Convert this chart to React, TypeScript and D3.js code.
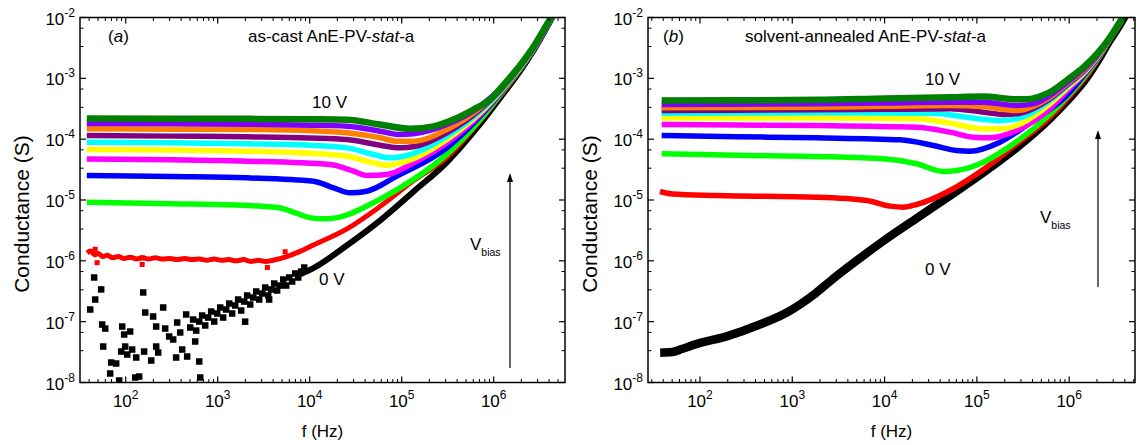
import React from 'react';
import * as d3 from 'd3';

// All data points are [log10 f (Hz), log10 G (S)].
type P = [number, number];

const VOLT_LABELS = ['0 V', '1 V', '2 V', '3 V', '4 V', '5 V', '6 V', '7 V', '8 V', '9 V', '10 V'];
const COLORS = ['#000000', '#FF0000', '#00FF00', '#0000FF', '#FF00FF', '#FFFF00', '#00FFFF', '#800080', '#FF8000', '#8000FF', '#008000'];

const X_MAJOR_EXP = [2, 3, 4, 5, 6];
const Y_MAJOR_EXP = [-8, -7, -6, -5, -4, -3, -2];

// ---------- (a) as-cast ----------
const castV0Scatter: P[] = [
  [1.614, -6.8], [1.657, -6.274], [1.668, -6.636], [1.733, -6.47], [1.744, -7.047], [1.777, -7.113],
  [1.755, -7.409], [1.842, -7.672], [1.896, -7.688], [1.831, -7.852], [1.929, -7.967], [1.962, -7.08],
  [1.983, -7.211], [2.048, -7.162], [1.951, -7.491], [1.994, -7.409], [2.016, -7.54], [2.07, -7.458],
  [2.103, -7.918], [2.146, -7.902], [2.114, -7.589], [2.19, -6.52], [2.2, -7.491], [2.212, -6.85],
  [2.277, -7.639], [2.298, -6.915], [2.331, -7.08], [2.331, -7.409], [2.353, -7.507], [2.407, -6.767],
  [2.429, -7.113], [2.472, -7.244], [2.516, -7.293], [2.548, -7.589], [2.559, -7.014], [2.592, -7.178],
  [2.614, -7.458], [2.657, -6.882], [2.668, -7.573], [2.755, -7.326], [2.799, -7.655], [2.81, -7.918],
  [3.298, -7.0], [3.559, -6.636],
  [2.701, -7.096], [2.733, -6.965], [2.766, -7.146], [2.799, -6.998], [2.831, -6.899], [2.864, -7.063],
  [2.896, -6.932], [2.929, -6.833], [2.962, -6.998], [2.994, -6.866], [3.027, -6.767], [3.059, -6.932],
  [3.092, -6.8], [3.125, -6.702], [3.157, -6.866], [3.19, -6.734], [3.222, -6.636], [3.255, -6.817],
  [3.288, -6.669], [3.32, -6.57], [3.353, -6.718], [3.386, -6.603], [3.418, -6.504], [3.451, -6.636],
  [3.483, -6.537], [3.516, -6.439], [3.549, -6.57], [3.581, -6.471], [3.614, -6.373], [3.646, -6.488],
  [3.679, -6.406], [3.712, -6.307], [3.744, -6.406], [3.777, -6.274], [3.809, -6.34], [3.842, -6.208],
  [3.875, -6.274], [3.907, -6.176], [3.94, -6.11],
];
const castV0: P[] = [
  [3.9, -6.22], [4.04, -6.12], [4.41, -5.74], [4.77, -5.33], [5.13, -4.86], [5.49, -4.38], [5.853, -3.75],
  [6.1, -3.26], [6.3, -2.85], [6.45, -2.5], [6.56, -2.21], [6.64, -1.99], [6.72, -1.76],
];
const castV1Scatter: P[] = [
  [1.668, -5.81], [1.689, -6.03], [2.179, -6.06], [2.18, -5.95], [3.54, -6.11], [3.733, -5.85],
];
const castV1: P[] = [
  [1.58, -5.87], [1.62, -5.84], [1.66, -5.9], [1.7, -5.88], [1.75, -5.93], [1.8, -5.91], [1.86, -5.95],
  [1.92, -5.93], [1.98, -5.96], [2.05, -5.94], [2.12, -5.97], [2.18, -5.95], [2.25, -5.97], [2.32, -5.95],
  [2.4, -5.97], [2.48, -5.96], [2.56, -5.98], [2.64, -5.96], [2.72, -5.98], [2.8, -5.97], [2.88, -5.99],
  [2.96, -5.97], [3.04, -5.99], [3.12, -5.98], [3.2, -6.0], [3.28, -5.98], [3.36, -6.01], [3.44, -5.99],
  [3.52, -6.01], [3.6, -5.99], [3.75, -5.93], [3.9, -5.84], [4.04, -5.74], [4.41, -5.47], [4.77, -5.1],
  [5.13, -4.68], [5.49, -4.3], [5.853, -3.7], [6.1, -3.23], [6.3, -2.83], [6.45, -2.49], [6.56, -2.2],
  [6.64, -1.98], [6.72, -1.75],
];
const castV2: P[] = [
  [1.577, -5.036], [2.5, -5.06], [3.317, -5.09], [3.679, -5.13], [3.86, -5.22], [4.0, -5.29],
  [4.15, -5.31], [4.3, -5.29], [4.45, -5.22], [4.58, -5.13], [4.95, -4.83], [5.49, -4.25],
  [5.853, -3.68], [6.1, -3.21], [6.3, -2.82], [6.45, -2.48], [6.56, -2.19], [6.64, -1.98], [6.72, -1.75],
];
const castV3: P[] = [
  [1.577, -4.597], [2.5, -4.615], [3.317, -4.636], [4.041, -4.69], [4.259, -4.8], [4.44, -4.882],
  [4.621, -4.855], [4.947, -4.608], [5.491, -4.143], [5.853, -3.622], [6.1, -3.19], [6.3, -2.81],
  [6.45, -2.48], [6.56, -2.19], [6.64, -1.98], [6.72, -1.75],
];
const castV4: P[] = [
  [1.577, -4.324], [2.5, -4.34], [3.317, -4.362], [4.222, -4.417], [4.476, -4.526], [4.621, -4.597],
  [4.838, -4.581], [5.128, -4.39], [5.491, -4.06], [5.853, -3.595], [6.1, -3.18], [6.3, -2.8],
  [6.45, -2.47], [6.56, -2.19], [6.64, -1.97], [6.72, -1.74],
];
const castV5: P[] = [
  [1.577, -4.17], [2.5, -4.18], [3.317, -4.197], [4.0, -4.23], [4.404, -4.28], [4.693, -4.39],
  [4.838, -4.428], [5.056, -4.362], [5.491, -4.006], [5.853, -3.568], [6.1, -3.17], [6.3, -2.8],
  [6.45, -2.47], [6.56, -2.18], [6.64, -1.97], [6.72, -1.74],
];
const castV6: P[] = [
  [1.577, -4.049], [2.5, -4.06], [3.317, -4.077], [4.0, -4.1], [4.404, -4.143], [4.693, -4.252],
  [4.875, -4.307], [5.056, -4.269], [5.491, -3.951], [5.853, -3.54], [6.1, -3.16], [6.3, -2.79],
  [6.45, -2.46], [6.56, -2.18], [6.64, -1.97], [6.72, -1.74],
];
const castV7: P[] = [
  [1.577, -3.94], [2.5, -3.95], [3.317, -3.962], [4.0, -3.98], [4.404, -4.006], [4.766, -4.099],
  [4.983, -4.143], [5.128, -4.126], [5.491, -3.896], [5.853, -3.513], [6.1, -3.15], [6.3, -2.78],
  [6.45, -2.46], [6.56, -2.18], [6.64, -1.97], [6.72, -1.73],
];
const castV8: P[] = [
  [1.577, -3.83], [2.5, -3.835], [3.317, -3.841], [4.0, -3.86], [4.404, -3.896], [4.766, -3.978],
  [4.947, -4.033], [5.128, -4.033], [5.491, -3.841], [5.853, -3.485], [6.1, -3.14], [6.3, -2.78],
  [6.45, -2.45], [6.56, -2.17], [6.64, -1.96], [6.72, -1.73],
];
const castV9: P[] = [
  [1.577, -3.743], [2.5, -3.748], [3.317, -3.754], [4.0, -3.77], [4.404, -3.787], [4.766, -3.869],
  [4.983, -3.924], [5.128, -3.913], [5.491, -3.76], [5.853, -3.458], [6.1, -3.13], [6.3, -2.77],
  [6.45, -2.45], [6.56, -2.17], [6.64, -1.96], [6.72, -1.73],
];
const castV10: P[] = [
  [1.577, -3.66], [2.5, -3.663], [3.317, -3.666], [4.0, -3.672], [4.404, -3.68], [4.766, -3.76],
  [5.092, -3.83], [5.346, -3.79], [5.563, -3.677], [5.78, -3.513], [5.962, -3.348], [6.1, -3.12],
  [6.3, -2.76], [6.45, -2.44], [6.56, -2.16], [6.64, -1.95], [6.72, -1.72],
];

// ---------- (b) solvent-annealed ----------
const annV0: P[] = [
  [1.569, -7.51], [1.7, -7.5], [1.8, -7.45], [1.96, -7.37], [2.314, -7.23], [2.627, -7.06], [2.941, -6.85],
  [3.1, -6.7], [3.255, -6.53], [3.43, -6.31], [3.625, -6.08], [4.0, -5.66], [4.348, -5.3], [4.709, -4.93],
  [5.07, -4.55], [5.431, -4.14], [5.792, -3.66], [6.0, -3.33], [6.153, -3.06], [6.3, -2.73],
  [6.44, -2.37], [6.53, -2.16], [6.6, -1.98], [6.68, -1.77],
];
const annV1: P[] = [
  [1.567, -4.86], [1.7, -4.9], [2.181, -4.926], [3.264, -4.954], [3.806, -5.008], [4.059, -5.101],
  [4.203, -5.118], [4.347, -5.074], [4.709, -4.844], [5.07, -4.5], [5.431, -4.077], [5.792, -3.638],
  [6.0, -3.3], [6.153, -3.03], [6.3, -2.71], [6.44, -2.36], [6.53, -2.15], [6.6, -1.97], [6.68, -1.76],
];
const annV2: P[] = [
  [1.585, -4.241], [2.4, -4.265], [3.264, -4.284], [3.986, -4.323], [4.347, -4.405], [4.636, -4.531],
  [4.781, -4.515], [5.07, -4.378], [5.431, -4.04], [5.792, -3.59], [6.0, -3.27], [6.153, -3.0],
  [6.3, -2.7], [6.44, -2.36], [6.53, -2.15], [6.6, -1.97], [6.68, -1.76],
];
const annV3: P[] = [
  [1.585, -3.94], [2.4, -3.96], [3.264, -3.978], [4.167, -4.011], [4.528, -4.104], [4.781, -4.186],
  [4.925, -4.197], [5.25, -4.049], [5.611, -3.693], [5.972, -3.282], [6.153, -2.96], [6.3, -2.68],
  [6.44, -2.35], [6.53, -2.14], [6.6, -1.96], [6.68, -1.75],
];
const annV4: P[] = [
  [1.585, -3.759], [2.4, -3.767], [3.264, -3.775], [4.347, -3.803], [4.709, -3.885], [4.961, -3.967],
  [5.142, -3.978], [5.431, -3.858], [5.792, -3.5], [6.0, -3.17], [6.153, -2.94], [6.3, -2.67],
  [6.44, -2.35], [6.53, -2.14], [6.6, -1.96], [6.68, -1.75],
];
const annV5: P[] = [
  [1.585, -3.65], [2.4, -3.65], [3.264, -3.65], [4.347, -3.666], [4.709, -3.737], [5.07, -3.83],
  [5.25, -3.83], [5.431, -3.775], [5.792, -3.419], [6.0, -3.13], [6.153, -2.92], [6.3, -2.66],
  [6.44, -2.34], [6.53, -2.13], [6.6, -1.96], [6.68, -1.75],
];
const annV6: P[] = [
  [1.585, -3.573], [2.4, -3.57], [3.264, -3.567], [4.528, -3.573], [4.89, -3.638], [5.25, -3.693],
  [5.431, -3.666], [5.792, -3.364], [6.0, -3.1], [6.153, -2.9], [6.3, -2.65], [6.44, -2.34],
  [6.53, -2.13], [6.6, -1.96], [6.68, -1.75],
];
const annV7: P[] = [
  [1.585, -3.529], [2.4, -3.524], [3.264, -3.518], [4.0, -3.51], [4.709, -3.5], [5.07, -3.556],
  [5.286, -3.594], [5.431, -3.584], [5.792, -3.337], [6.0, -3.08], [6.153, -2.89], [6.3, -2.64],
  [6.44, -2.34], [6.53, -2.13], [6.6, -1.95], [6.68, -1.74],
];
const annV8: P[] = [
  [1.585, -3.485], [2.4, -3.48], [3.264, -3.474], [4.0, -3.46], [4.709, -3.447], [5.07, -3.463],
  [5.431, -3.529], [5.792, -3.31], [6.0, -3.06], [6.153, -2.87], [6.3, -2.63], [6.44, -2.33],
  [6.53, -2.12], [6.6, -1.95], [6.68, -1.74],
];
const annV9: P[] = [
  [1.585, -3.43], [2.4, -3.425], [3.264, -3.419], [4.0, -3.405], [4.709, -3.392], [5.07, -3.392],
  [5.431, -3.447], [5.611, -3.42], [5.792, -3.282], [6.0, -3.04], [6.153, -2.85], [6.3, -2.62],
  [6.44, -2.33], [6.53, -2.12], [6.6, -1.95], [6.68, -1.74],
];
const annV10: P[] = [
  [1.585, -3.364], [2.4, -3.36], [3.264, -3.353], [4.0, -3.33], [4.709, -3.31], [5.07, -3.299],
  [5.431, -3.345], [5.52, -3.345], [5.792, -3.227], [6.0, -3.0], [6.153, -2.82], [6.3, -2.6],
  [6.44, -2.33], [6.53, -2.12], [6.6, -1.95], [6.68, -1.74],
];

const castSeries = [castV0, castV1, castV2, castV3, castV4, castV5, castV6, castV7, castV8, castV9, castV10];
const annSeries = [annV0, annV1, annV2, annV3, annV4, annV5, annV6, annV7, annV8, annV9, annV10];

const FONT = "'Liberation Sans', Arial, Helvetica, sans-serif";

type Box = { l: number; r: number; t: number; b: number };

type PanelCfg = {
  id: string;
  box: Box;
  xLogDomain: [number, number];
  series: P[][];
  widths: number[];
  scatterSets: { pts: P[]; color: string; size: number }[];
  letter: string;
  titleX: number;
  title: [string, string, string];
  letterX: number;
  tenV: [number, number];
  zeroV: [number, number];
  vbias: [number, number];
  arrow: [number, number, number];
  yLabelX: number;
};

function Panel({ cfg }: { cfg: PanelCfg }) {
  const { box } = cfg;
  const x = d3.scaleLog().domain([10 ** cfg.xLogDomain[0], 10 ** cfg.xLogDomain[1]]).range([box.l, box.r]);
  const y = d3.scaleLog().domain([1e-8, 1e-2]).range([box.b, box.t]);
  const line = d3
    .line<P>()
    .x((d) => x(10 ** d[0]))
    .y((d) => y(10 ** d[1]))
    .curve(d3.curveMonotoneX);

  const [x0, x1] = x.domain();
  const xMinor: number[] = [];
  for (let k = 1; k <= 6; k++) for (let j = 2; j <= 9; j++) {
    const v = j * 10 ** k;
    if (v > x0 && v < x1) xMinor.push(v);
  }
  const yMinor: number[] = [];
  for (let k = -8; k <= -3; k++) {
    yMinor.push(10 ** (k + 1) / 3, (2 * 10 ** (k + 1)) / 3);
  }
  const MAJ = 6;
  const MIN = 3.5;
  const clipId = `clip-${cfg.id}`;
  const midX = (box.l + box.r) / 2;

  return (
    <g>
      <defs>
        <clipPath id={clipId}>
          <rect x={box.l} y={box.t} width={box.r - box.l} height={box.b - box.t} />
        </clipPath>
      </defs>
      <g clipPath={`url(#${clipId})`}>
        {cfg.series.map((s, i) => (
          <path key={i} d={line(s) || ''} fill="none" stroke={COLORS[i]} strokeWidth={cfg.widths[i]}
            strokeLinejoin="round" strokeLinecap="butt" />
        ))}
        {cfg.scatterSets.map((set, si) =>
          set.pts.map((d, i) => (
            <rect key={`${si}-${i}`} x={x(10 ** d[0]) - set.size / 2} y={y(10 ** d[1]) - set.size / 2}
              width={set.size} height={set.size} fill={set.color} />
          ))
        )}
      </g>
      <rect x={box.l} y={box.t} width={box.r - box.l} height={box.b - box.t} fill="none" stroke="#000" strokeWidth={1.5} />
      {X_MAJOR_EXP.map((k) => {
        const px = x(10 ** k);
        return (
          <g key={`xm${k}`}>
            <line x1={px} x2={px} y1={box.b} y2={box.b - MAJ} stroke="#000" strokeWidth={1.2} />
            <line x1={px} x2={px} y1={box.t} y2={box.t + MAJ} stroke="#000" strokeWidth={1.2} />
            <text x={px} y={box.b + 24} textAnchor="middle" fontFamily={FONT} fontSize={17}>
              <tspan>10</tspan>
              <tspan dy={-8} fontSize={12}>{k}</tspan>
            </text>
          </g>
        );
      })}
      {xMinor.map((v, i) => {
        const px = x(v);
        return (
          <g key={`xn${i}`}>
            <line x1={px} x2={px} y1={box.b} y2={box.b - MIN} stroke="#000" strokeWidth={1} />
            <line x1={px} x2={px} y1={box.t} y2={box.t + MIN} stroke="#000" strokeWidth={1} />
          </g>
        );
      })}
      {Y_MAJOR_EXP.map((k) => {
        const py = y(10 ** k);
        return (
          <g key={`ym${k}`}>
            <line x1={box.l} x2={box.l + MAJ} y1={py} y2={py} stroke="#000" strokeWidth={1.2} />
            <line x1={box.r} x2={box.r - MAJ} y1={py} y2={py} stroke="#000" strokeWidth={1.2} />
            <text x={box.l - 5} y={py + 7} textAnchor="end" fontFamily={FONT} fontSize={17}>
              <tspan>10</tspan>
              <tspan dy={-8} fontSize={12}>{`-${-k}`}</tspan>
            </text>
          </g>
        );
      })}
      {yMinor.map((v, i) => {
        const py = y(v);
        return (
          <g key={`yn${i}`}>
            <line x1={box.l} x2={box.l + MIN} y1={py} y2={py} stroke="#000" strokeWidth={1} />
            <line x1={box.r} x2={box.r - MIN} y1={py} y2={py} stroke="#000" strokeWidth={1} />
          </g>
        );
      })}
      <text x={midX} y={437} textAnchor="middle" fontFamily={FONT} fontSize={17}>f (Hz)</text>
      <text transform={`translate(${cfg.yLabelX},214) rotate(-90)`} textAnchor="middle" fontFamily={FONT} fontSize={21}>
        Conductance (S)
      </text>
      <text x={cfg.letterX} y={42} fontFamily={FONT} fontSize={17}>
        <tspan>(</tspan>
        <tspan fontStyle="italic">{cfg.letter}</tspan>
        <tspan>)</tspan>
      </text>
      <text x={cfg.titleX} y={42} fontFamily={FONT} fontSize={17}>
        <tspan>{cfg.title[0]}</tspan>
        <tspan fontStyle="italic">{cfg.title[1]}</tspan>
        <tspan>{cfg.title[2]}</tspan>
      </text>
      <text x={cfg.tenV[0]} y={cfg.tenV[1]} fontFamily={FONT} fontSize={17}>{VOLT_LABELS[10]}</text>
      <text x={cfg.zeroV[0]} y={cfg.zeroV[1]} fontFamily={FONT} fontSize={17}>{VOLT_LABELS[0]}</text>
      <text x={cfg.vbias[0]} y={cfg.vbias[1]} fontFamily={FONT} fontSize={17}>
        <tspan>V</tspan>
        <tspan dy={6} fontSize={10.5}>bias</tspan>
      </text>
      <line x1={cfg.arrow[0]} x2={cfg.arrow[0]} y1={cfg.arrow[2]} y2={cfg.arrow[1] + 6} stroke="#000" strokeWidth={1.2} />
      <path d={`M${cfg.arrow[0]},${cfg.arrow[1]} L${cfg.arrow[0] - 3},${cfg.arrow[1] + 9} L${cfg.arrow[0] + 3},${cfg.arrow[1] + 9} Z`} fill="#000" />
    </g>
  );
}

const W_CAST = [6, 5, 5.5, 5.5, 5.5, 5.5, 5.5, 5.5, 5.5, 5.5, 6.5];
const W_ANN = [8.5, 5.5, 5.5, 5.5, 5.5, 5.5, 5.5, 5.5, 5.5, 5.5, 6.5];

export default function App() {
  const left: PanelCfg = {
    id: 'a',
    box: { l: 80, r: 565, t: 17.5, b: 382.5 },
    xLogDomain: [1.503, 6.775],
    series: castSeries,
    widths: W_CAST,
    scatterSets: [
      { pts: castV0Scatter, color: '#000', size: 6.5 },
      { pts: castV1Scatter, color: '#FF0000', size: 5 },
    ],
    letter: 'a',
    letterX: 108,
    titleX: 248,
    title: ['as-cast AnE-PV-', 'stat', '-a'],
    tenV: [312, 108],
    zeroV: [319, 285],
    vbias: [470, 250],
    arrow: [510, 173, 368],
    yLabelX: 29,
  };
  const right: PanelCfg = {
    id: 'b',
    box: { l: 648, r: 1135, t: 17.5, b: 382.5 },
    xLogDomain: [1.437, 6.713],
    series: annSeries,
    widths: W_ANN,
    scatterSets: [],
    letter: 'b',
    letterX: 663,
    titleX: 745,
    title: ['solvent-annealed AnE-PV-', 'stat', '-a'],
    tenV: [925, 85],
    zeroV: [925, 275],
    vbias: [1040, 223],
    arrow: [1098, 130, 287],
    yLabelX: 597,
  };
  return (
    <svg width={1137} height={445} style={{ position: 'absolute', left: 0, top: 0, background: '#fff' }}>
      <Panel cfg={left} />
      <Panel cfg={right} />
    </svg>
  );
}
